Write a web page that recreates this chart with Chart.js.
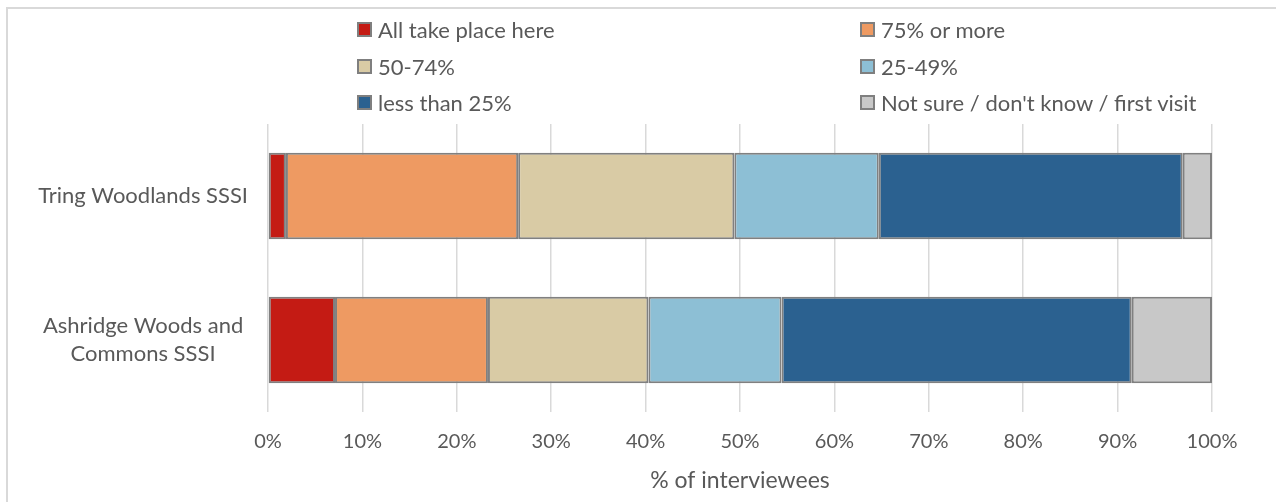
<!DOCTYPE html>
<html>
<head>
<meta charset="utf-8">
<title>Share of visits</title>
<script src="https://cdn.jsdelivr.net/npm/chart.js@4"></script>
<style>
    body { margin: 0; background: #fff; font-family: Lato, 'Noto Sans', sans-serif; }
    #wrap { position: relative; width: 1276px; height: 502px; overflow: hidden; }
    #frame { position: absolute; left: 6px; top: 7px; width: 1290px; height: 520px; border: 2px solid #d9d9d9; box-sizing: border-box; }
    #chart { position: absolute; left: 0; top: 0; }
    #legend { position: absolute; left: 357px; top: 16px; width: 880px; }
    .item { position: absolute; display: flex; align-items: center; font-size: 22px; color: #595959; white-space: nowrap; }
    .box { width: 11px; height: 11px; border: 2px solid #7f7f7f; margin-right: 6px; }
</style>
</head>
<body>
<div id="wrap">
    <div id="frame"></div>
    <canvas id="chart" width="1276" height="502"></canvas>
    <div id="legend"></div>
</div>
<script>
const sites = ['Tring Woodlands SSSI', ['Ashridge Woods and', 'Commons SSSI']];
const groups = ['All take place here', '75% or more', '50-74%', '25-49%', 'less than 25%', 'Not sure / don\'t know / first visit'];
const colors = ['#c41b14', '#ee9a62', '#d9cba5', '#8dbfd5', '#2b6190', '#c8c8c8'];

// % of interviewees per site, one array per group
const allHere = [1.9, 7.1];
const over75 = [24.6, 16.2];
const from50 = [22.9, 17.0];
const from25 = [15.3, 14.1];
const under25 = [32.2, 37.1];
const notSure = [3.1, 8.5];
const series = [allHere, over75, from50, from25, under25, notSure];

const xTicks = [0, 10, 20, 30, 40, 50, 60, 70, 80, 90, 100];

// Legend in two columns
const legend = document.getElementById('legend');
groups.forEach((g, i) => {
    const div = document.createElement('div');
    div.className = 'item';
    div.style.left = (i % 2 ? 503 : 0) + 'px';
    div.style.top = (Math.floor(i / 2) * 36.5) + 'px';
    div.innerHTML = `<span class="box" style="background:${colors[i]}"></span>${g}`;
    legend.appendChild(div);
});

const textColor = '#595959';

new Chart(document.getElementById('chart'), {
    type: 'bar',
    data: {
        labels: sites,
        datasets: series.map((d, i) => ({
            label: groups[i],
            data: d,
            backgroundColor: colors[i],
            borderColor: '#808080',
            borderWidth: 2,
            borderSkipped: false,
            barPercentage: 0.6,
            categoryPercentage: 1
        }))
    },
    options: {
        indexAxis: 'y',
        responsive: false,
        animation: false,
        layout: { padding: { left: 0, right: 64, top: 124, bottom: 0 } },
        scales: {
            x: {
                stacked: true,
                min: 0,
                max: 100,
                afterBuildTicks: scale => { scale.ticks = xTicks.map(v => ({ value: v })); },
                afterFit: scale => { scale.height = 90; },
                grid: { color: '#d9d9d9', lineWidth: 1.5, drawTicks: false },
                border: { display: false },
                ticks: {
                    color: textColor,
                    font: { family: 'Lato', size: 20 },
                    padding: 18,
                    maxRotation: 0,
                    callback: v => v + '%'
                },
                title: {
                    display: true,
                    text: '% of interviewees',
                    color: textColor,
                    font: { family: 'Lato', size: 23 },
                    padding: { top: 4, bottom: 8 }
                }
            },
            y: {
                stacked: true,
                afterFit: scale => { scale.width = 268; },
                grid: { display: false },
                border: { display: false },
                ticks: {
                    color: textColor,
                    font: { family: 'Lato', size: 22, lineHeight: 1.25 },
                    crossAlign: 'center',
                    padding: 12
                }
            }
        },
        plugins: {
            legend: { display: false },
            tooltip: { enabled: false }
        }
    }
});
</script>
</body>
</html>
